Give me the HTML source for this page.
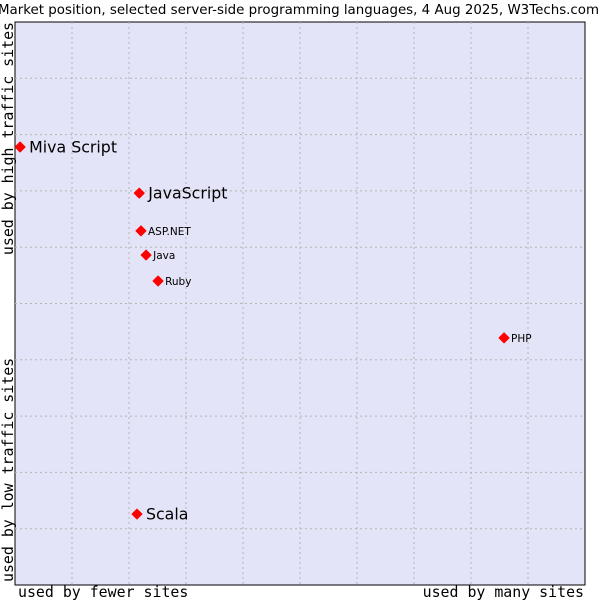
<!DOCTYPE html>
<html><head><meta charset="utf-8"><style>
body{margin:0;background:#fff;width:600px;height:600px;overflow:hidden}
svg{display:block}
</style></head><body>
<svg id="chart" width="600" height="600" xmlns="http://www.w3.org/2000/svg">
<text x="-2" y="14" font-family="DejaVu Sans, sans-serif" font-size="13.4" fill="#000">Market position, selected server-side programming languages, 4 Aug 2025, W3Techs.com</text>
<rect x="15" y="22" width="570" height="563" fill="#e4e4f8" stroke="#000" stroke-width="1"/>
<g id="grid"></g>
<g id="points"></g>
<text x="18" y="597" font-family="DejaVu Sans Mono, monospace" font-size="14.9">used by fewer sites</text>
<text x="584" y="597" text-anchor="end" font-family="DejaVu Sans Mono, monospace" font-size="14.9">used by many sites</text>
<text transform="translate(13,22) rotate(-90)" text-anchor="end" font-family="DejaVu Sans Mono, monospace" font-size="14.9">used by high traffic sites</text>
<text transform="translate(13,582) rotate(-90)" font-family="DejaVu Sans Mono, monospace" font-size="14.9">used by low traffic sites</text>
</svg>
<script>
const languages=["Miva Script","JavaScript","ASP.NET","Java","Ruby","PHP","Scala"];
const siteShare=[0.9,21.8,22.1,23.0,25.1,85.8,21.4];
const trafficRank=[77.8,69.6,62.9,58.6,54.0,43.9,12.6];
const bigLabel=[true,true,false,false,false,false,true];
const NS="http://www.w3.org/2000/svg";
const L=15,T=22,W=570,H=563;
const xs=v=>L+v/100*W, ys=v=>T+H-v/100*H;
const grid=document.getElementById('grid');
for(let i=1;i<10;i++){
 const a=document.createElementNS(NS,'line');
 
 
 a.setAttribute('x1',xs(i*10));a.setAttribute('x2',xs(i*10));a.setAttribute('y1',T);a.setAttribute('y2',T+H);
 a.setAttribute('stroke','#b4b4b4');a.setAttribute('stroke-dasharray','2,3');grid.appendChild(a);
 const b=document.createElementNS(NS,'line');
 
 
 b.setAttribute('y1',ys(i*10));b.setAttribute('y2',ys(i*10));b.setAttribute('x1',L);b.setAttribute('x2',L+W);
 b.setAttribute('stroke','#b4b4b4');b.setAttribute('stroke-dasharray','2,3');grid.appendChild(b);
}
const pts=document.getElementById('points');
languages.forEach((n,i)=>{
 const x=xs(siteShare[i]),y=ys(trafficRank[i]);
 const r=5;
 const d=document.createElementNS(NS,'polygon');
 
 
 d.setAttribute('points',`${x},${y-r} ${x+r},${y} ${x},${y+r} ${x-r},${y}`);
 d.setAttribute('fill','#f00');d.setAttribute('stroke','#f00');d.setAttribute('stroke-linejoin','round');
 pts.appendChild(d);
 const t=document.createElementNS(NS,'text');
 
 
 t.setAttribute('x',x+(bigLabel[i]?9:7));t.setAttribute('y',y+(bigLabel[i]?5.5:4));
 t.setAttribute('font-family','DejaVu Sans, sans-serif');
 t.setAttribute('font-size',bigLabel[i]?'15.8':'10.5');
 t.textContent=n;pts.appendChild(t);
});
</script>
</body></html>
